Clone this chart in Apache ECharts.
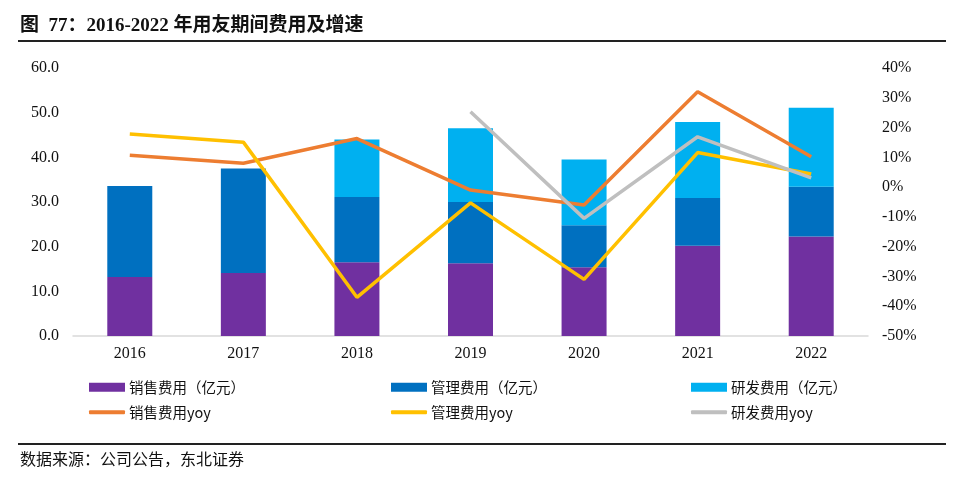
<!DOCTYPE html>
<html>
<head>
<meta charset="utf-8">
<script src="https://cdn.jsdelivr.net/npm/echarts@6/dist/echarts.min.js"></script>
<style>html,body{margin:0;padding:0;background:#fff;}#c{width:960px;height:491px;}</style>
</head>
<body>
<div id="c"></div>
<script>
const categories = ['2016','2017','2018','2019','2020','2021','2022'];
const salesExp = [13.2, 14.1, 16.5, 16.3, 15.4, 20.2, 22.3];
const mgmtExp  = [20.4, 23.4, 14.6, 13.7, 9.4, 10.7, 11.1];
const rdExp    = [null, null, 12.9, 16.5, 14.7, 17.0, 17.7];
const salesYoy = [10.7, 8.0, 16.3, -1.0, -6.0, 32.0, 10.2];
const mgmtYoy  = [17.8, 15.1, -37.0, -5.3, -31.0, 11.6, 4.4];
const rdYoy    = [null, null, null, 25.3, -10.5, 16.9, 3.1];
const leftTicks = {min: 0, max: 60, interval: 10};
const rightTicks = {min: -50, max: 40, interval: 10};

const names = ['销售费用（亿元）','管理费用（亿元）','研发费用（亿元）','销售费用yoy','管理费用yoy','研发费用yoy'];
const colors = ['#7030A0','#0070C0','#00B0F0','#ED7D31','#FFC000','#BFBFBF'];
const cjk = '"Noto Sans CJK SC", sans-serif';
const serif = '"Liberation Serif", "Times New Roman", serif';

const legendPos = [[89,380,true],[391,380,true],[691,380,true],[89,405,false],[391,405,false],[691,405,false]];
const legends = names.map((n,i)=>({
  data:[n], left: legendPos[i][0], top: legendPos[i][1],
  itemWidth: 36, itemHeight: legendPos[i][2] ? 9 : 4,
  icon: legendPos[i][2] ? 'rect' : 'roundRect',
  itemGap: 0, padding: 0,
  textStyle: {fontFamily: cjk, fontSize: 14.5, color: '#111', padding:[0,0,0,-1]},
  selectedMode: false
}));

const chart = echarts.init(document.getElementById('c'));
chart.setOption({
  animation: false,
  color: colors,
  grid: {left: 73, right: 92, top: 68, bottom: 155},
  legend: legends,
  xAxis: {
    type: 'category', data: categories,
    axisLine: {lineStyle: {color: '#d9d9d9', width: 1.5}},
    axisTick: {show: false},
    axisLabel: {fontFamily: serif, fontSize: 16, color: '#111', margin: 10}
  },
  yAxis: [
    {type: 'value', min: leftTicks.min, max: leftTicks.max, interval: leftTicks.interval,
     splitLine: {show: false}, axisLine: {show: false}, axisTick: {show: false},
     axisLabel: {fontFamily: serif, fontSize: 16, color: '#111', margin: 14, formatter: v => v.toFixed(1)}},
    {type: 'value', min: rightTicks.min, max: rightTicks.max, interval: rightTicks.interval,
     splitLine: {show: false}, axisLine: {show: false}, axisTick: {show: false},
     axisLabel: {fontFamily: serif, fontSize: 16, color: '#111', margin: 14, formatter: v => Math.round(v) + '%'}}
  ],
  series: [
    {name: names[0], type: 'bar', stack: 'e', data: salesExp, barWidth: 45, itemStyle: {color: colors[0]}},
    {name: names[1], type: 'bar', stack: 'e', data: mgmtExp, barWidth: 45, itemStyle: {color: colors[1]}},
    {name: names[2], type: 'bar', stack: 'e', data: rdExp, barWidth: 45, itemStyle: {color: colors[2]}},
    {name: names[3], type: 'line', yAxisIndex: 1, data: salesYoy, showSymbol: false, symbol: 'none', lineStyle: {width: 3.5, color: colors[3]}, itemStyle: {color: colors[3]}},
    {name: names[4], type: 'line', yAxisIndex: 1, data: mgmtYoy, showSymbol: false, symbol: 'none', lineStyle: {width: 3.5, color: colors[4]}, itemStyle: {color: colors[4]}},
    {name: names[5], type: 'line', yAxisIndex: 1, data: rdYoy, showSymbol: false, symbol: 'none', lineStyle: {width: 3.5, color: colors[5]}, itemStyle: {color: colors[5]}}
  ],
  graphic: [
    {type: 'text', left: 20, top: 17, style: {text: '图  77：2016-2022 年用友期间费用及增速', fontFamily: serif + ',' + cjk, fontWeight: 'bold', fontSize: 19, fill: '#111'}},
    {type: 'rect', left: 18, top: 40, shape: {width: 928, height: 2}, style: {fill: '#222'}},
    {type: 'rect', left: 18, top: 443, shape: {width: 928, height: 2}, style: {fill: '#222'}},
    {type: 'text', left: 20, top: 451, style: {text: '数据来源：公司公告，东北证券', fontFamily: cjk, fontSize: 16, fill: '#111'}}
  ]
});
</script>
</body>
</html>
